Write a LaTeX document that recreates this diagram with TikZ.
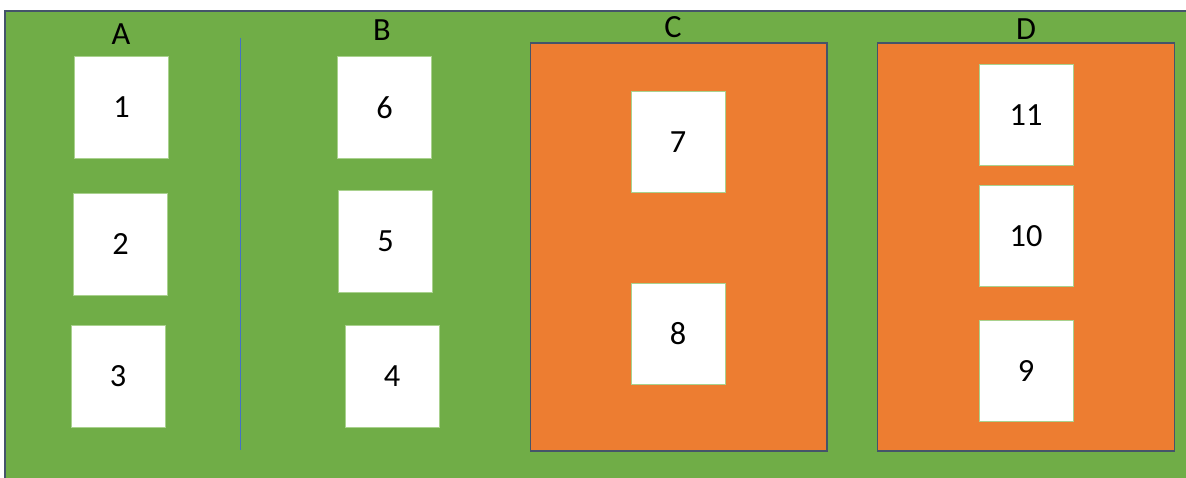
\documentclass[tikz,border=0pt]{standalone}
\usepackage{fontspec}
\setmainfont{Carlito}
\usetikzlibrary{positioning}
\definecolor{FieldGreen}{HTML}{70AD47}
\definecolor{PanelOrange}{HTML}{ED7D31}
\definecolor{EdgeGray}{HTML}{44546A}
\definecolor{LineBlue}{HTML}{4472C4}
\definecolor{CellEdge}{HTML}{A9D18E}

\begin{document}
\begin{tikzpicture}[
    x=0.025cm, y=-0.025cm,
    font=\fontsize{23}{28}\selectfont,
    cell/.style={draw=CellEdge, line width=0.6pt, fill=white, inner sep=0pt,
        minimum width=2.35cm, minimum height=2.53cm},
    panel/.style={draw=EdgeGray, line width=0.8pt, fill=PanelOrange, inner sep=0pt,
        minimum width=7.42cm, minimum height=10.2cm},
    tag/.style={inner sep=0pt},
]
\useasboundingbox (0,0) rectangle (1186,478);

% fondo
\fill[FieldGreen] (5,11) rectangle (1186,478);
\draw[EdgeGray, line width=1pt] (5,478) -- (5,11) -- (1186,11);

% separador
\coordinate (sepT) at (240,38);
\coordinate (sepB) at (240,450);
\draw[LineBlue, line width=0.7pt] (sepT) -- (sepB);

% paneles
\node[panel] (pc) at (678.5,247) {};
\node[panel] (pd) at (1026,247) {};

% titulos
\node[tag] (ta) at (121,34) {A};
\node[tag] (tb) at (382,30) {B};
\node[tag] (tc) at (673,27) {C};
\node[tag] (td) at (1026,29) {D};

% casillas
\foreach \n/\x/\y in {1/121.5/107.5, 2/120.5/244.5, 3/118/376.5,
                      6/384.5/107.5, 5/385.5/241.5, 4/392/376.5,
                      7/678/142, 8/678/334,
                      11/1026/115, 10/1026/236, 9/1026/371}
    \node[cell] (c\n) at (\x,\y) {\n};

\end{tikzpicture}
\end{document}
